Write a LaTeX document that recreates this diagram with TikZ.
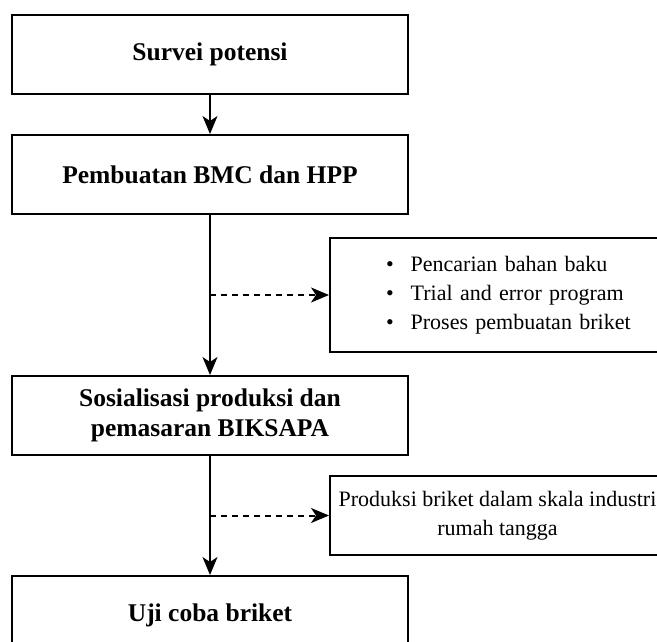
\documentclass[tikz,border=0pt]{standalone}
\usepackage{fontspec}
\setmainfont{Liberation Serif}
\usetikzlibrary{positioning,arrows.meta}

\begin{document}
\begin{tikzpicture}[x=1pt,y=1pt,node distance=40pt,
    line width=2pt,>={Stealth[length=18pt,width=15pt,inset=5pt]},
    box/.style={draw,minimum width=396pt,minimum height=79pt,align=center,
      font=\fontsize{25.5}{30}\selectfont\bfseries},
    note/.style={draw,minimum height=79pt,
      font=\fontsize{22}{29}\selectfont}]
    \useasboundingbox (0,0) rectangle (657,-642);
    \node[box] (survei) at (210,-54.5) {Survei potensi};
    \node[box] (bmc)[below=39pt of survei] {Pembuatan BMC dan HPP};
    \node[box] (sosial)[below=160pt of bmc] {Sosialisasi produksi dan\\pemasaran BIKSAPA};
    \node[box] (uji)[below=119pt of sosial] {Uji coba briket};
    \coordinate[below=80pt of bmc] (m1);
    \coordinate[below=59.5pt of sosial] (m2);
    \node[note,minimum height=114pt,text width=280pt,align=left,inner xsep=56pt]
      (bahan)[right=119pt of m1]
      {\textbullet\hspace{17pt}Pencarian bahan baku\\
       \textbullet\hspace{17pt}Trial and error program\\
       \textbullet\hspace{17pt}Proses pembuatan briket};
    \node[note,minimum width=335pt,align=center,inner xsep=2pt]
      (produksi)[right=119pt of m2]
      {Produksi briket dalam skala industri\\rumah tangga};
    \draw[->] (survei) -- (bmc);
    \draw[->] (bmc) -- (sosial);
    \draw[->] (sosial) -- (uji);
    \draw[->,dash pattern=on 6pt off 5pt] (m1) -- (bahan);
    \draw[->,dash pattern=on 6pt off 5pt] (m2) -- (produksi);
\end{tikzpicture}
\end{document}
